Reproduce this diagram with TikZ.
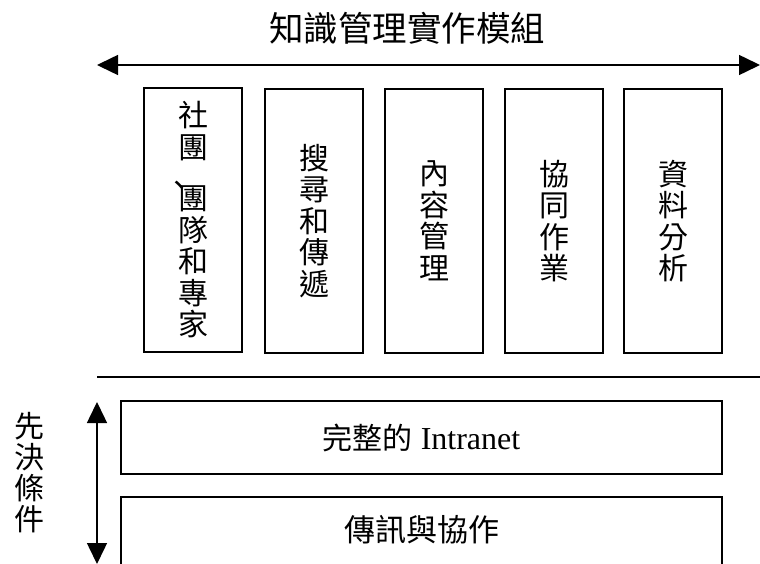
\documentclass[tikz,border=0pt]{standalone}
\usepackage{fontspec}
\setmainfont{Liberation Serif}
\newfontfamily\cjk{Noto Sans CJK TC}
\usetikzlibrary{arrows.meta}
\begin{document}
\begin{tikzpicture}[x=1pt,y=-1pt,
  every node/.style={inner sep=0pt, outer sep=0pt},
  modbox/.style={draw, line width=1.5pt, minimum width=98pt, minimum height=264pt, align=center,
    font=\cjk\fontsize{30}{31.5}\selectfont},
  basebox/.style={draw, line width=1.5pt, minimum width=601pt},
  rule/.style={line width=1.5pt},
  dbl/.style={line width=1.5pt, {Triangle[length=21pt,width=20pt]}-{Triangle[length=21pt,width=20pt]}}
]
\useasboundingbox (0,0) rectangle (760,564);

% title
\node (title) at (407,28) {\cjk\fontsize{34.5}{36}\selectfont 知識管理實作模組};

% top double arrow
\coordinate (arrL) at (97,65);
\coordinate (arrR) at (760,65);
\draw[dbl] (arrL) -- (arrR);

% module boxes
\node[modbox] (m1) at (193,220) {社\\團\\[20pt]\rlap{\hspace{-0.45em}\smash{\raisebox{0.45em}{、}}}團\\隊\\和\\專\\家};
\node[modbox] (m2) at (314,221) {搜\\尋\\和\\傳\\遞};
\node[modbox] (m3) at (434,221) {內\\容\\管\\理};
\node[modbox] (m4) at (554,221) {協\\同\\作\\業};
\node[modbox] (m5) at (673,221) {資\\料\\分\\析};

% separator
\coordinate (sepL) at (97,377);
\coordinate (sepR) at (760,377);
\draw[rule] (sepL) -- (sepR);

% prerequisites label and arrow
\node[align=center, font=\cjk\fontsize{30}{31}\selectfont] (pre) at (29,473) {先\\決\\條\\件};
\coordinate (vtop) at (97,402);
\coordinate (vbot) at (97,564);
\draw[dbl] (vtop) -- (vbot);

% base boxes
\node[basebox, minimum height=73pt] (intranet) at (421.5,437.5)
  {{\cjk\fontsize{30}{36}\selectfont 完整的}{\fontsize{32}{36}\selectfont\ Intranet}};
\node[basebox, minimum height=120pt, anchor=north] (msg) at (421.5,497) {};
\node (msgtext) at (421.5,530) {\cjk\fontsize{31}{36}\selectfont 傳訊與協作};
\end{tikzpicture}
\end{document}
